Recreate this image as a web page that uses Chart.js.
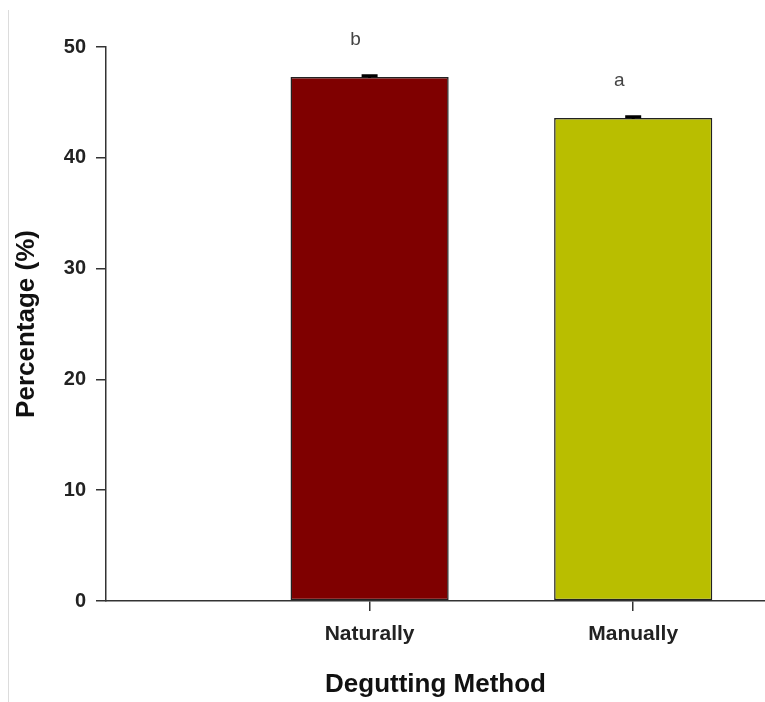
<!DOCTYPE html>
<html>
<head>
<meta charset="utf-8">
<script src="https://cdn.jsdelivr.net/npm/chart.js@4"></script>
<style>
  body { margin: 0; background: #fff; }
  #wrap { position: relative; width: 765px; height: 702px; }
  #edge { position: absolute; left: 8px; top: 10px; bottom: 0; width: 1px; background: #dcdcdc; }
</style>
</head>
<body>
<div id="wrap">
  <div id="edge"></div>
  <canvas id="chart" width="765" height="702"></canvas>
</div>
<script>
// Data
const metodos = ["Naturally", "Manually"]
const porcentaje = [47.3, 43.6]
const errores = [0.1, 0.1]
const letras = ["b", "a"]
const colores = ["#7f0000", "#b9be00"]
const yTicks = [0, 10, 20, 30, 40, 50]

const fuente = "'Liberation Sans', Arial, sans-serif"

// Error bars + significance letters
const extras = {
  id: "extras",
  afterDatasetsDraw(chart) {
    const ctx = chart.ctx
    const y = chart.scales.y
    const meta = chart.getDatasetMeta(0)
    ctx.save()
    meta.data.forEach((bar, i) => {
      const top = y.getPixelForValue(porcentaje[i] + errores[i])
      const bot = y.getPixelForValue(porcentaje[i] - errores[i])
      ctx.strokeStyle = "#000"
      ctx.lineWidth = 3
      ctx.beginPath()
      ctx.moveTo(bar.x, top)
      ctx.lineTo(bar.x, bot)
      ctx.moveTo(bar.x - 8, top)
      ctx.lineTo(bar.x + 8, top)
      ctx.stroke()

      ctx.fillStyle = "#444"
      ctx.font = "19px " + fuente
      ctx.textAlign = "center"
      ctx.textBaseline = "middle"
      ctx.fillText(letras[i], bar.x - 14, bar.y - 37)
    })
    ctx.restore()
  },
}

new Chart(document.getElementById("chart"), {
  type: "bar",
  data: {
    datasets: [
      {
        data: metodos.map((m, i) => ({ x: i + 1, y: porcentaje[i] })),
        backgroundColor: colores,
        borderColor: "#222",
        borderWidth: 1.5,
        borderSkipped: false,
        barPercentage: 0.6,
        categoryPercentage: 1,
      },
    ],
  },
  options: {
    responsive: false,
    animation: false,
    layout: { padding: { top: 47, right: 0, left: 0, bottom: 0 } },
    plugins: { legend: { display: false }, tooltip: { enabled: false } },
    scales: {
      x: {
        type: "linear",
        min: 0,
        max: 2.5,
        offset: false,
        afterBuildTicks: (scale) => {
          scale.ticks = metodos.map((m, i) => ({ value: i + 1 }))
        },
        afterFit: (scale) => {
          scale.height = 101
        },
        grid: { offset: false, drawOnChartArea: false, tickLength: 10, color: "#333", lineWidth: 1.5 },
        border: { color: "#333", width: 1.5 },
        ticks: {
          color: "#222",
          padding: 11,
          maxRotation: 0,
          font: { family: fuente, size: 21, weight: "bold" },
          callback: (v) => metodos[v - 1] || "",
        },
        title: {
          display: true,
          text: "Degutting Method",
          color: "#111",
          padding: { top: 0, bottom: 2 },
          font: { family: fuente, size: 26, weight: "bold" },
        },
      },
      y: {
        min: 0,
        max: 50,
        afterBuildTicks: (scale) => {
          scale.ticks = yTicks.map((v) => ({ value: v }))
        },
        afterFit: (scale) => {
          scale.width = 106
        },
        grid: { drawOnChartArea: false, tickLength: 10, color: "#333", lineWidth: 1.5 },
        border: { color: "#333", width: 1.5 },
        ticks: {
          color: "#222",
          padding: 10,
          font: { family: fuente, size: 20, weight: "bold" },
        },
        title: {
          display: true,
          text: "Percentage (%)",
          color: "#111",
          padding: { top: 11, bottom: 0 },
          font: { family: fuente, size: 26, weight: "bold" },
        },
      },
    },
  },
  plugins: [extras],
})
</script>
</body>
</html>
